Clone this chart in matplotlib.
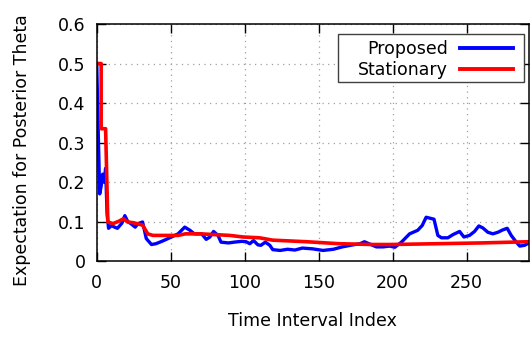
import matplotlib
matplotlib.use("Agg")
import matplotlib.pyplot as plt
from matplotlib.patches import Rectangle

# Proposed (blue)
prop_t = [0, 1, 2, 3, 4, 5, 6, 7, 8, 10, 12, 14, 17, 19, 21, 23, 26, 28, 31, 33.5, 37, 40,
          44, 47, 50.5, 55, 59.5, 63, 66, 71, 74, 76.5, 79, 82, 84, 89, 93, 98, 101, 103.5,
          106, 109, 111, 114, 117, 119, 124, 129, 134, 139, 146, 153, 160, 166, 173, 178,
          181, 184, 189, 193.5, 198, 201.5, 206, 211.5, 217, 220, 222.7, 228, 230.6, 233,
          237.4, 240.8, 245.3, 248.2, 252, 255.4, 258.3, 261, 264.4, 267.8, 271.2, 274.5,
          277.5, 280.2, 283.6, 286, 289.3, 292]
prop_v = [0.5, 0.33, 0.17, 0.19, 0.22, 0.2, 0.235, 0.12, 0.083, 0.09, 0.086, 0.083, 0.096,
          0.115, 0.1, 0.095, 0.086, 0.095, 0.099, 0.057, 0.042, 0.044, 0.05, 0.055, 0.061,
          0.069, 0.086, 0.078, 0.069, 0.069, 0.055, 0.061, 0.075, 0.065, 0.048, 0.046,
          0.048, 0.05, 0.049, 0.044, 0.052, 0.041, 0.04, 0.048, 0.04, 0.029, 0.027, 0.03,
          0.028, 0.033, 0.031, 0.027, 0.03, 0.036, 0.041, 0.044, 0.049, 0.044, 0.036,
          0.036, 0.038, 0.035, 0.048, 0.069, 0.078, 0.09, 0.111, 0.106, 0.065, 0.059,
          0.059, 0.067, 0.075, 0.061, 0.065, 0.075, 0.089, 0.084, 0.073, 0.069, 0.073,
          0.079, 0.083, 0.065, 0.048, 0.038, 0.04, 0.046]

# Stationary (red)
stat_t = [0, 3, 3, 6, 7.5, 11, 15, 18, 21, 25, 31, 34.5, 38, 55, 60, 70, 80, 90, 99, 110,
          119, 142, 164, 187, 198, 230, 260, 292]
stat_v = [0.5, 0.5, 0.335, 0.335, 0.099, 0.095, 0.101, 0.107, 0.099, 0.097, 0.091, 0.069,
          0.065, 0.065, 0.069, 0.069, 0.067, 0.065, 0.061, 0.059, 0.053, 0.049, 0.044,
          0.042, 0.042, 0.044, 0.046, 0.049]

x_ticks = [0, 50, 100, 150, 200, 250]
y_ticks = [0, 0.1, 0.2, 0.3, 0.4, 0.5, 0.6]
y_tick_labels = ["0", "0.1", "0.2", "0.3", "0.4", "0.5", "0.6"]

plt.rcParams['font.family'] = ['DejaVu Sans']
fs = 12.5

fig = plt.figure(figsize=(5.3, 3.38), dpi=100)
ax = fig.add_axes([0.1825, 0.2275, 0.815, 0.7015])

ax.plot(prop_t, prop_v, color='#0000ff', lw=2.4, label='Proposed', solid_joinstyle='round')
ax.plot(stat_t, stat_v, color='#ff0000', lw=2.6, label='Stationary', solid_joinstyle='round')

ax.set_xlim(0, 292)
ax.set_ylim(0, 0.6)
ax.set_xticks(x_ticks)
ax.set_yticks(y_ticks)
ax.set_yticklabels(y_tick_labels)
ax.grid(True, color='#a0a0a0', linestyle=(0, (1, 3.5)), lw=0.9)
ax.tick_params(direction='in', length=6.5, width=1, top=True, right=True,
               labelsize=fs, pad=8, colors='black')
ax.tick_params(axis='x', pad=9)
for s in ax.spines.values():
    s.set_linewidth(1.1)
    s.set_color('black')

ax.set_xlabel('Time Interval Index', fontsize=fs, labelpad=15)
fig.text(22.5 / 530, 1 - 150 / 338, 'Expectation for Posterior Theta', fontsize=fs,
         rotation=90, ha='center', va='center')

# legend box (gnuplot style: extra room on the left)
ax.add_patch(Rectangle((0.5586, 0.755), 0.9898 - 0.5586, 0.959 - 0.755,
                       transform=ax.transAxes, facecolor='white', edgecolor='#404040',
                       lw=1.0, zorder=4.5, clip_on=False))
leg = ax.legend(loc='upper right', bbox_to_anchor=(0.963, 0.934), borderaxespad=0,
                fontsize=fs, markerfirst=False, handlelength=3.05, handletextpad=0.69,
                labelspacing=0.22, borderpad=0, frameon=False)
leg.set_zorder(5)
for l in leg.get_lines():
    l.set_linewidth(2.8)

fig.savefig('out.png', dpi=100)
